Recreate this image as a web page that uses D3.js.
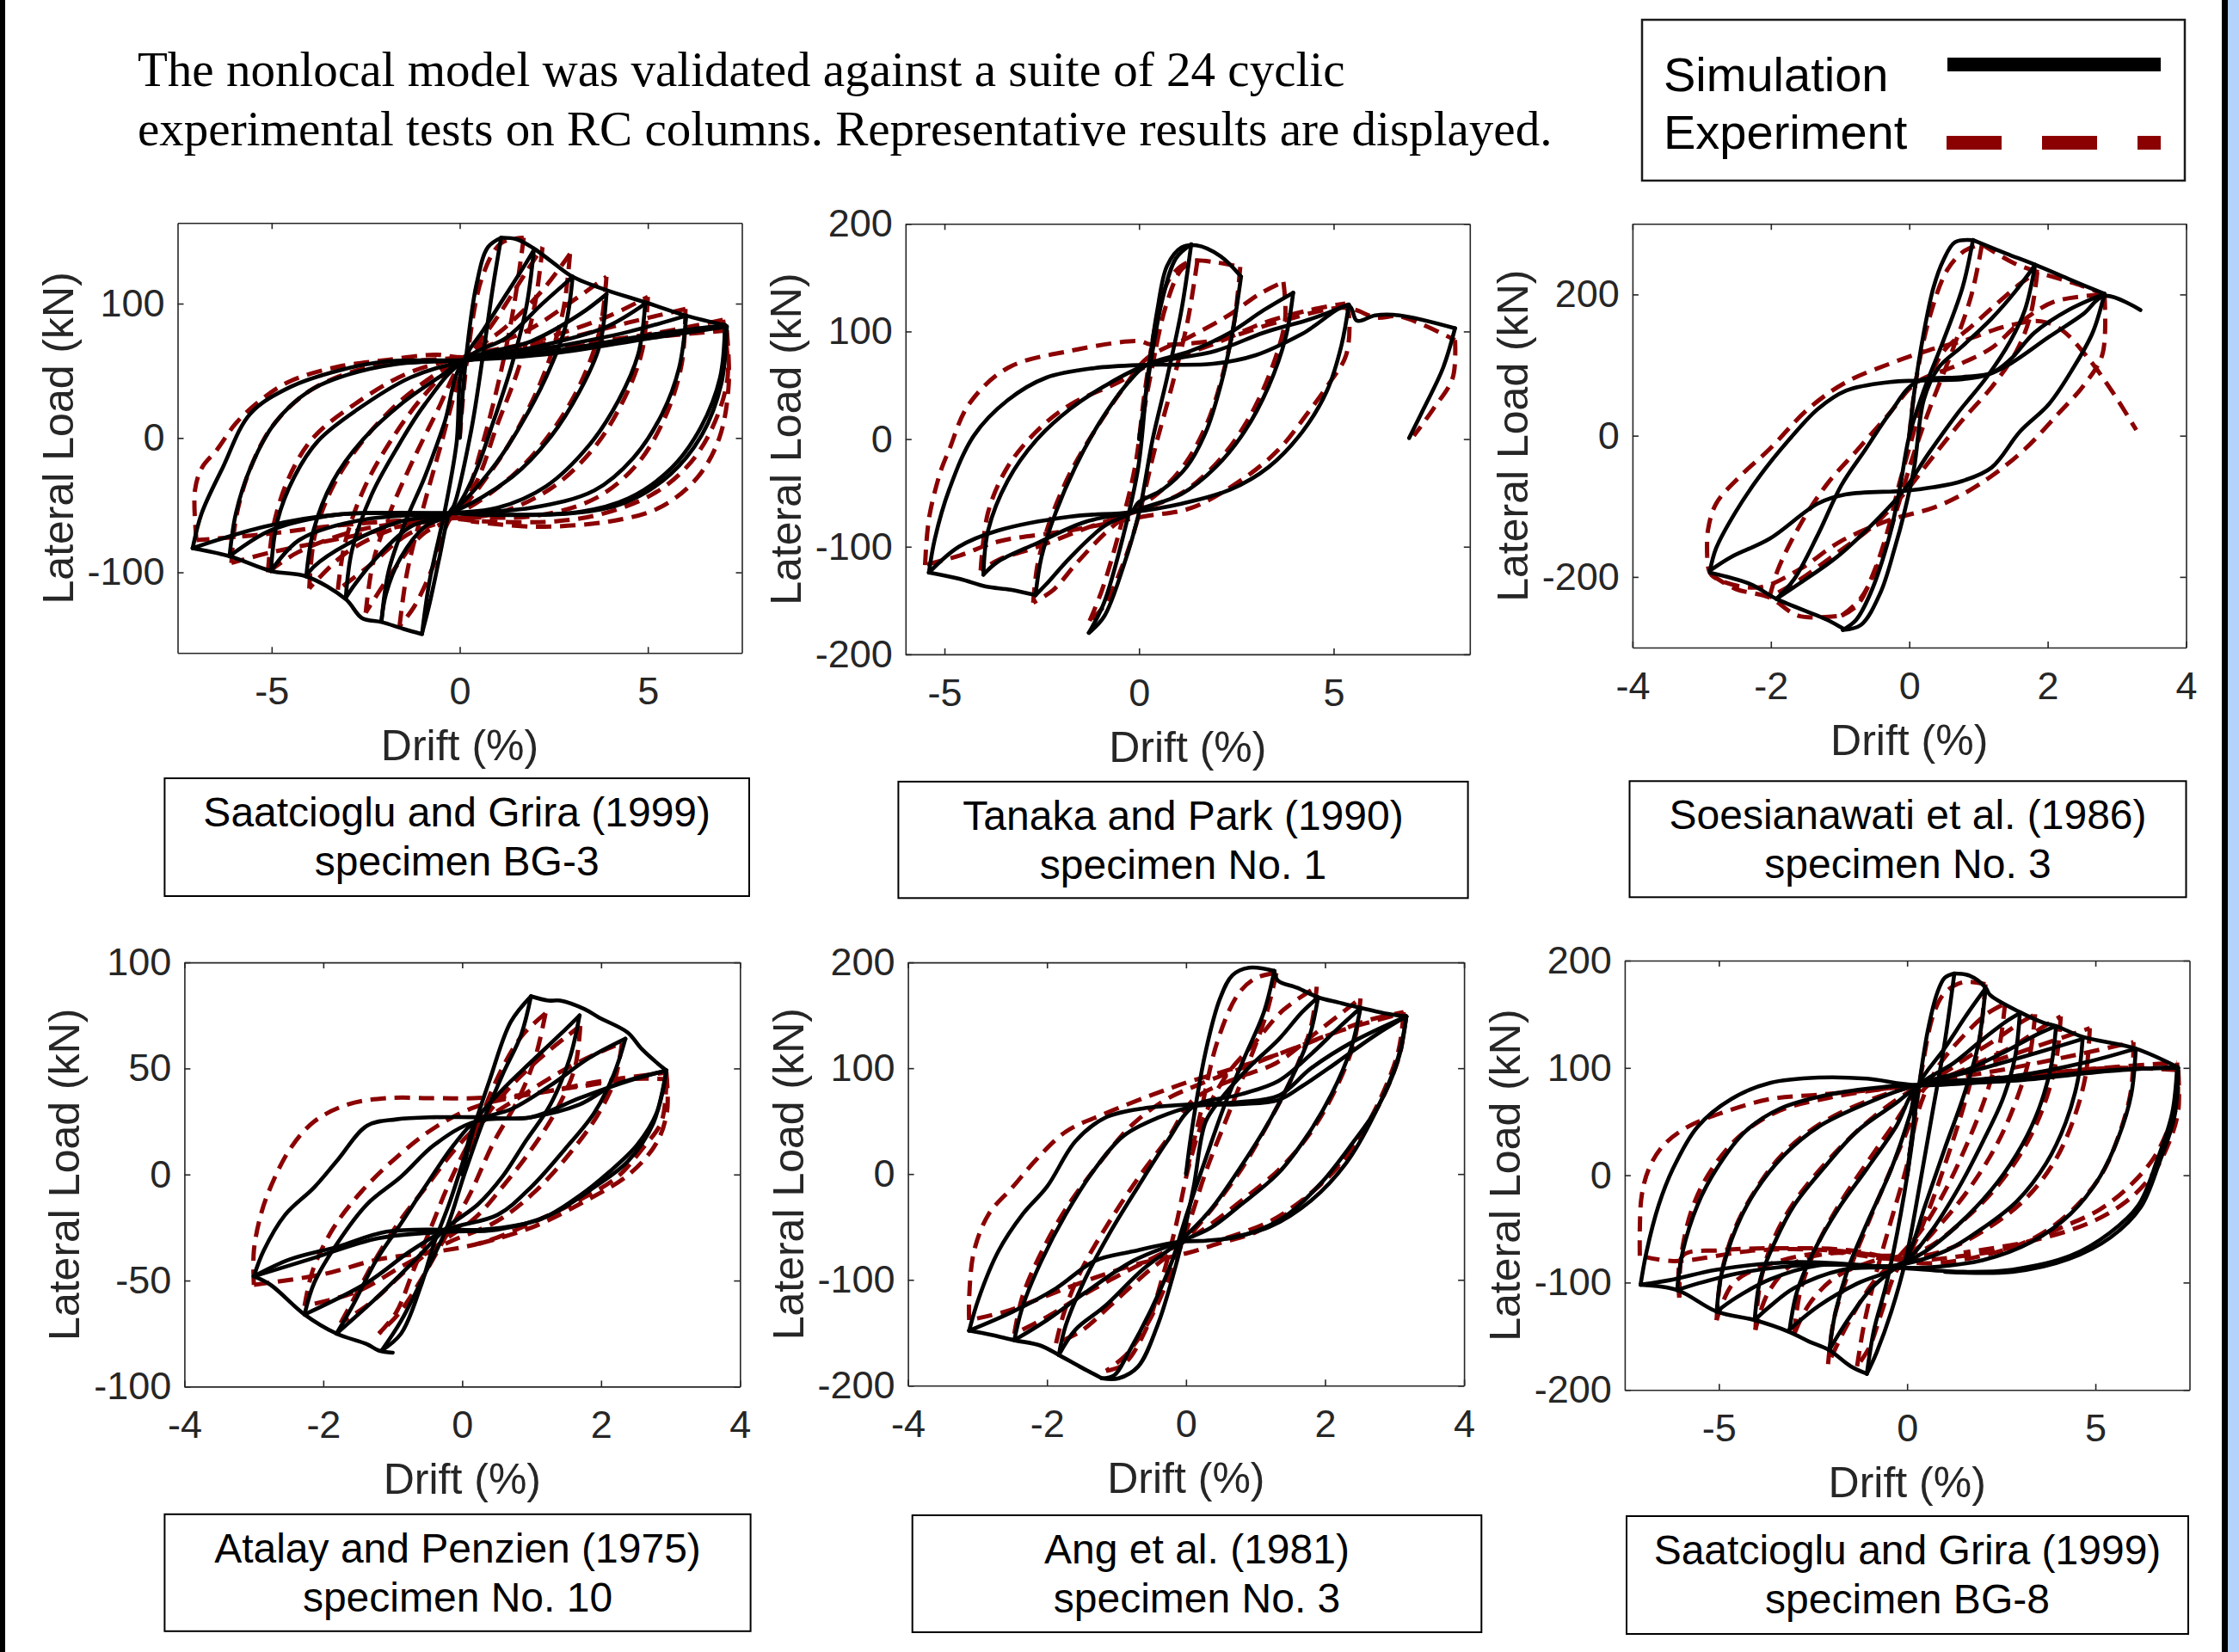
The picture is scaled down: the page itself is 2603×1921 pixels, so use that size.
<!DOCTYPE html>
<html>
<head>
<meta charset="utf-8">
<script src="https://cdn.jsdelivr.net/npm/d3@7"></script>
<style>
  html, body { margin: 0; padding: 0; background: #fff; }
  svg { display: block; }
</style>
</head>
<body>
<svg id="fig" width="2603" height="1921"></svg>
<script>
// ---- text ----
const titleLines = [
  "The nonlocal model was validated against a suite of 24 cyclic",
  "experimental tests on RC columns. Representative results are displayed."
]
const legendLabels = ["Simulation", "Experiment"]

// ---- data: drift (%) vs lateral load (kN), one array per loading branch ----
// Saatcioglu and Grira (1999) BG-3
const bg3Sim = [
  [[0,0],[0.15,55],[0.45,115],[0.75,142],[1.1,149]],
  [[1.1,149],[0.88,112],[0.62,62],[0.3,5],[-0.15,-50],[-0.28,-56],[-0.54,-89],[-0.8,-123],[-1.0,-145]],
  [[-1.0,-145],[-0.8,-106],[-0.41,-56],[-0.09,-5],[0.1,57],[0.62,80],[1.26,108],[1.78,131],[1.97,140]],
  [[1.97,140],[1.78,99],[1.39,55],[0.88,11],[0.36,-29],[-0.22,-56],[-0.93,-66],[-1.57,-89],[-1.96,-116],[-2.08,-136]],
  [[-2.08,-136],[-1.89,-99],[-1.44,-62],[-0.93,-29],[-0.41,11],[0.1,57],[1.26,75],[2.16,99],[2.8,115],[3.0,120]],
  [[3.0,120],[2.8,82],[2.29,45],[1.65,11],[0.88,-22],[-0.28,-56],[-1.31,-66],[-2.21,-89],[-2.79,-109],[-3.03,-119]],
  [[-3.03,-119],[-2.86,-83],[-2.34,-42],[-1.7,-9],[-0.93,25],[0.1,57],[1.9,72],[3.19,92],[3.9,107]],
  [[3.9,107],[3.71,68],[3.19,35],[2.42,1],[1.39,-29],[-0.28,-56],[-1.57,-62],[-2.99,-79],[-3.89,-96],[-4.08,-103]],
  [[-4.08,-103],[-3.89,-69],[-3.37,-32],[-2.6,-2],[-1.57,25],[-0.41,48],[0.1,58],[1.9,67],[3.84,82],[4.93,100]],
  [[4.93,100],[4.74,62],[4.22,28],[3.45,-5],[2.29,-36],[1.0,-52],[-0.28,-56],[-2.6,-61],[-4.27,-76],[-5.02,-99]],
  [[-5.02,-99],[-4.85,-62],[-4.4,-29],[-3.76,-2],[-2.73,21],[-1.31,45],[0.1,57],[2.55,68],[4.48,79],[6.02,91]],
  [[6.02,91],[5.83,52],[5.38,18],[4.61,-15],[3.58,-39],[1.9,-52],[-0.28,-56],[-3.24,-57],[-5.05,-69],[-6.12,-88]],
  [[-6.12,-88],[-5.95,-56],[-5.56,-22],[-4.92,11],[-4.0,35],[-2.99,47],[-1.7,55],[0.1,58],[2.55,65],[5.12,77],[7.05,84]],
  [[7.05,84],[6.92,45],[6.41,8],[5.64,-22],[4.48,-45],[3.19,-55],[0.62,-57],[-0.28,-56],[-3.25,-57],[-5.2,-66],[-7.1,-82]],
  [[-7.1,-82],[-6.86,-56],[-6.3,-22],[-5.57,18],[-4.5,38],[-3.25,50],[-1.96,57],[0.1,58],[2.5,63],[5.0,74],[7.1,83]],
  [[7.1,83],[6.95,40],[6.45,3],[5.6,-27],[4.4,-48],[3.0,-56],[0.5,-57]],
  [[1.1,149],[1.5,148],[1.97,141],[2.5,130],[3.0,120],[3.9,110],[4.93,101],[6.02,91],[7.05,84]],
  [[-1.0,-146],[-1.5,-142],[-2.08,-137],[-2.6,-134],[-3.03,-120],[-4.08,-103],[-5.02,-99],[-6.12,-88],[-7.1,-82]]
]
const bg3Exp = [
  [[0,0],[0.2,60],[0.6,120],[1.1,145],[1.7,149]],
  [[1.7,149],[1.45,100],[1.1,50],[0.6,-5],[0.1,-48],[-0.3,-62],[-0.7,-95],[-1.2,-125],[-1.6,-140]],
  [[-1.6,-140],[-1.4,-100],[-1.0,-55],[-0.5,-5],[0,45],[0.3,62],[1.0,90],[1.8,125],[2.2,142]],
  [[2.2,142],[2.0,100],[1.6,55],[1.0,10],[0.4,-35],[-0.3,-60],[-1.0,-72],[-1.8,-100],[-2.5,-130]],
  [[-2.5,-130],[-2.3,-92],[-1.85,-55],[-1.3,-20],[-0.6,20],[0.1,58],[1.2,82],[2.2,110],[2.93,137]],
  [[2.93,137],[2.75,95],[2.3,52],[1.7,15],[0.9,-22],[-0.2,-58],[-1.4,-72],[-2.4,-95],[-3.24,-113]],
  [[-3.24,-113],[-3.05,-78],[-2.55,-38],[-1.9,-5],[-1.0,30],[0.1,60],[1.8,80],[3.0,102],[3.9,120]],
  [[3.9,120],[3.72,80],[3.2,40],[2.45,5],[1.4,-28],[-0.2,-58],[-1.6,-66],[-3.0,-85],[-4.0,-112]],
  [[-4.0,-112],[-3.85,-72],[-3.35,-35],[-2.6,-3],[-1.6,27],[-0.4,52],[0.1,60],[2.0,72],[3.9,90],[5.0,105]],
  [[5.0,105],[4.85,65],[4.35,28],[3.55,-8],[2.4,-38],[1.0,-56],[-0.3,-60],[-2.6,-68],[-4.3,-85],[-5.1,-100]],
  [[-5.1,-100],[-4.95,-65],[-4.55,-30],[-3.9,0],[-2.8,25],[-1.4,48],[0.1,60],[2.5,72],[4.5,86],[6.0,96]],
  [[6.0,96],[5.9,55],[5.45,15],[4.7,-20],[3.6,-45],[2.0,-58],[-0.3,-60],[-3.2,-75],[-5.0,-85],[-6.07,-93]],
  [[-6.07,-93],[-5.95,-60],[-5.6,-25],[-5.0,8],[-4.1,33],[-3.0,48],[-1.7,56],[0.1,60],[2.6,68],[5.2,78],[7.0,88]],
  [[7.0,88],[7.12,45],[6.67,5],[6.02,-22],[5.12,-42],[3.84,-56],[2.55,-62],[0.62,-62],[-0.3,-60],[-3.2,-65],[-5.3,-72],[-7.0,-76]],
  [[-7.0,-76],[-7.04,-39],[-6.85,-22],[-6.46,-9],[-5.95,11],[-5.3,28],[-4.53,42],[-3.24,53],[-1.96,58],[-0.67,62],[0.1,60],[3,68],[5.5,76],[7.1,80]],
  [[7.1,80],[7.15,40],[6.9,0],[6.3,-30],[5.3,-52],[4.0,-62],[2.0,-66],[0.3,-62]]
]

// Tanaka and Park (1990) No. 1
const tanakaSim = [
  [[0,0],[0.25,60],[0.6,130],[0.95,168],[1.34,181]],
  [[1.34,181],[1.09,120],[0.72,57],[0.35,0],[0.0,-68],[-0.4,-118],[-0.9,-165],[-1.29,-180]],
  [[-1.29,-180],[-0.9,-152],[-0.4,-89],[-0.02,-26],[0.22,57],[0.47,120],[0.72,161],[1.09,178],[1.47,180],[2.09,170],[2.62,151]],
  [[2.62,151],[2.4,99],[2.09,49],[1.72,7],[1.22,-26],[0.6,-47],[-0.02,-59],[-0.2,-68],[-0.9,-81],[-1.77,-110],[-2.39,-135],[-2.66,-145]],
  [[-2.66,-145],[-2.51,-110],[-2.14,-68],[-1.64,-26],[-1.02,15],[-0.27,53],[0.2,69],[1.34,82],[2.34,99],[3.21,120],[3.96,136]],
  [[3.96,136],[3.77,95],[3.33,49],[2.71,7],[1.97,-26],[1.09,-51],[0.1,-64],[-0.21,-68],[-1.39,-77],[-2.64,-97],[-3.63,-114],[-4.0,-126]],
  [[-4.0,-126],[-3.88,-85],[-3.38,-39],[-2.64,-1],[-1.77,28],[-0.9,49],[0.2,69],[1.97,82],[3.21,99],[4.45,112],[5.39,125]],
  [[5.39,125],[5.2,87],[4.83,45],[4.2,7],[3.33,-26],[2.34,-47],[1.09,-60],[-0.21,-68],[-1.77,-72],[-3.63,-85],[-4.63,-100],[-5.4,-124]],
  [[-5.4,-124],[-5.25,-93],[-4.88,-47],[-4.25,3],[-3.38,36],[-2.39,57],[-1.14,66],[0.2,69],[1.9,70],[3.0,78],[4.2,98],[5.39,124],[5.6,110],[6.07,115],[6.69,115],[8.12,103]],
  [[8.12,103],[7.81,66],[7.31,28],[6.94,1]],
  [[-2.66,-145],[-3.3,-140],[-3.94,-137],[-4.6,-130],[-5.4,-124]]
]
const tanakaExp = [
  [[0,0],[0.3,60],[0.7,125],[1.1,158],[1.5,166]],
  [[1.5,166],[1.25,110],[0.85,50],[0.4,-10],[0.0,-70],[-0.4,-115],[-0.9,-155],[-1.27,-169]],
  [[-1.27,-169],[-0.95,-140],[-0.5,-85],[-0.1,-25],[0.15,45],[0.45,110],[0.8,150],[1.3,165],[2.0,164],[2.6,160]],
  [[2.6,160],[2.45,110],[2.15,60],[1.75,15],[1.2,-22],[0.5,-50],[-0.1,-65],[-0.8,-85],[-1.6,-115],[-2.2,-140],[-2.72,-152]],
  [[-2.72,-152],[-2.6,-115],[-2.25,-72],[-1.75,-30],[-1.1,10],[-0.35,50],[0.2,75],[1.3,95],[2.3,115],[3.1,135],[3.71,146]],
  [[3.71,146],[3.75,110],[3.35,60],[2.75,15],[2.0,-22],[1.1,-50],[0.1,-65],[-1.3,-82],[-2.6,-100],[-3.6,-112],[-4.07,-122]],
  [[-4.07,-122],[-3.88,-68],[-3.38,-26],[-2.64,7],[-1.77,32],[-0.52,53],[0.1,66],[1.9,88],[3.2,108],[4.4,120],[5.3,126]],
  [[5.3,126],[5.39,116],[5.32,78],[4.83,49],[4.33,24],[3.58,-10],[2.59,-39],[1.34,-64],[0.1,-72],[-1.8,-85],[-3.6,-95],[-4.6,-108],[-5.5,-117]],
  [[-5.5,-117],[-5.45,-90],[-5.37,-68],[-5.1,-30],[-4.88,-10],[-4.38,32],[-3.38,66],[-1.77,82],[0,91],[0.3,88],[2.0,92],[3.5,108],[5.3,122],[6.1,113],[6.7,114],[8.12,92]],
  [[8.12,92],[8.06,57],[7.56,28],[7.06,3]]
]

// Soesianawati et al. (1986) No. 3
const soesSim = [
  [[0,0],[0.07,60],[0.21,146],[0.35,210],[0.49,248],[0.66,274],[0.92,277]],
  [[0.92,277],[0.77,210],[0.49,134],[0.21,64],[0,0],[-0.14,-76],[-0.28,-140],[-0.56,-223],[-0.77,-261],[-0.96,-275]],
  [[-0.96,-275],[-0.7,-268],[-0.42,-223],[-0.21,-159],[-0.07,-108],[0.07,-45],[0.21,51],[0.42,96],[0.77,127],[1.19,166],[1.53,204],[1.82,242]],
  [[1.82,242],[1.67,178],[1.46,134],[1.12,83],[0.7,32],[0.28,-25],[-0.07,-76],[-0.49,-121],[-1.05,-172],[-1.6,-210],[-1.92,-231]],
  [[-1.92,-231],[-1.67,-204],[-1.32,-140],[-0.98,-70],[-0.63,-19],[-0.28,32],[0.1,76],[0.77,83],[1.19,89],[1.46,108],[1.81,146],[2.3,178],[2.82,201]],
  [[2.82,201],[2.65,146],[2.37,96],[2.02,45],[1.6,6],[1.19,-45],[0.77,-64],[0.35,-73],[-0.07,-78],[-0.91,-83],[-1.32,-96],[-2.02,-146],[-2.58,-172],[-2.88,-191]],
  [[-2.88,-191],[-2.79,-159],[-2.51,-108],[-2.16,-57],[-1.74,-6],[-1.32,38],[-0.91,64],[-0.28,76],[0.1,78],[0.77,80],[1.12,86],[1.46,102],[2.02,140],[2.51,172],[2.82,198],[3.34,178]],
  [[0.92,277],[1.4,258],[1.82,242],[2.3,222],[2.82,201]],
  [[-2.88,-194],[-2.3,-210],[-1.92,-231],[-1.18,-261],[-0.96,-273]]
]
const soesExp = [
  [[0,0],[0.1,80],[0.3,170],[0.55,235],[0.8,262],[1.05,271]],
  [[1.05,271],[0.9,200],[0.62,120],[0.3,40],[0.05,-30],[-0.15,-95],[-0.4,-170],[-0.7,-230],[-0.98,-255]],
  [[-0.98,-255],[-0.75,-240],[-0.5,-190],[-0.3,-130],[-0.15,-70],[0.05,0],[0.25,70],[0.5,120],[0.9,155],[1.3,190],[1.6,215],[1.85,232]],
  [[1.85,232],[1.75,170],[1.55,120],[1.2,70],[0.75,20],[0.3,-35],[-0.1,-85],[-0.55,-130],[-1.1,-170],[-1.6,-205],[-2.02,-229]],
  [[-2.02,-229],[-1.9,-190],[-1.6,-130],[-1.2,-70],[-0.75,-20],[-0.3,30],[0.1,75],[0.7,100],[1.2,125],[1.6,160],[2.1,190],[2.82,200]],
  [[2.82,200],[2.79,115],[2.51,70],[2.16,32],[1.67,-19],[1.19,-57],[0.77,-83],[0.35,-102],[-0.3,-120],[-1.0,-150],[-1.6,-190],[-2.2,-215],[-2.86,-197],[-2.92,-172]],
  [[-2.92,-172],[-2.91,-134],[-2.79,-96],[-2.44,-57],[-2.02,-19],[-1.46,38],[-0.91,76],[-0.28,102],[0.28,121],[0.8,135],[1.4,155],[1.9,162],[2.2,150],[2.6,108],[2.95,60],[3.28,8]],
  [[1.05,271],[1.5,245],[1.85,232],[2.5,212],[2.82,200]],
  [[-2.86,-197],[-2.51,-217],[-2.02,-229],[-1.6,-255],[-0.98,-255]]
]

// Atalay and Penzien (1975) No. 10
const atalaySim = [
  [[0,0],[0.15,20],[0.4,45],[0.7,72],[0.99,84]],
  [[0.99,84],[0.85,66],[0.58,47],[0.3,25],[0.02,-1],[-0.22,-25],[-0.54,-47],[-0.88,-69],[-1.16,-83]],
  [[-1.16,-83],[-0.88,-75],[-0.6,-53],[-0.4,-32],[-0.19,-14],[0.02,7],[0.19,25],[0.58,40],[0.99,53],[1.41,66],[1.69,75]],
  [[1.69,75],[1.55,55],[1.27,33],[0.92,16],[0.58,-1],[0.23,-14],[-0.22,-25],[-0.67,-40],[-1.23,-58],[-1.81,-75]],
  [[-1.81,-75],[-1.58,-62],[-1.23,-40],[-0.88,-23],[-0.54,-6],[-0.12,14],[0.19,25],[0.72,31],[1.27,42],[1.83,55],[2.35,64]],
  [[2.35,64],[2.18,47],[1.9,29],[1.48,12],[0.99,-6],[0.51,-19],[-0.22,-26],[-0.74,-36],[-1.37,-51],[-2.27,-66]],
  [[-2.27,-66],[-2.13,-51],[-1.79,-32],[-1.37,-14],[-0.88,-1],[-0.4,14],[0.19,25],[0.99,27],[1.69,33],[2.18,42],[2.94,49]],
  [[2.94,49],[2.8,29],[2.52,14],[2.11,1],[1.69,-10],[1.13,-21],[0.3,-26],[-0.22,-26],[-1.09,-27],[-1.79,-34],[-2.48,-40],[-3.0,-48]],
  [[-3.0,-48],[-2.86,-36],[-2.55,-19],[-2.13,-6],[-1.79,7],[-1.37,23],[-0.95,26],[-0.4,27],[0.19,27],[0.99,27],[1.69,36],[2.38,44],[2.94,49]],
  [[2.94,49],[2.75,24],[2.38,6],[1.9,-6],[1.27,-19],[0.5,-26],[-0.22,-27],[-1.2,-30],[-2.2,-40],[-3.0,-48]],
  [[0.99,84],[1.24,82],[1.41,82],[1.76,78],[1.97,74],[2.38,67],[2.59,59],[2.94,49]],
  [[-3.0,-48],[-2.76,-52],[-2.27,-66],[-1.81,-75],[-1.37,-80],[-1.2,-83],[-1.0,-84]]
]
const atalayExp = [
  [[0,0],[0.2,20],[0.5,45],[0.85,65],[1.2,76]],
  [[1.2,76],[1.05,55],[0.8,35],[0.45,15],[0.1,-10],[-0.25,-30],[-0.6,-50],[-0.9,-65],[-1.2,-75]],
  [[-1.2,-75],[-0.95,-65],[-0.7,-45],[-0.45,-25],[-0.2,-5],[0.1,15],[0.4,30],[0.8,45],[1.2,57],[1.5,65],[1.7,70]],
  [[1.7,70],[1.62,50],[1.35,30],[1.0,12],[0.6,-5],[0.2,-20],[-0.3,-32],[-0.8,-45],[-1.3,-60],[-1.75,-70]],
  [[-1.75,-70],[-1.55,-58],[-1.25,-40],[-0.9,-22],[-0.5,-5],[-0.1,12],[0.3,25],[0.9,38],[1.5,50],[2.0,58],[2.3,62]],
  [[2.3,62],[2.2,45],[1.95,28],[1.55,10],[1.05,-8],[0.5,-22],[-0.2,-32],[-0.8,-42],[-1.5,-55],[-2.27,-62]],
  [[-2.27,-62],[-2.15,-45],[-1.85,-25],[-1.45,-8],[-0.95,8],[-0.4,22],[0.2,32],[1.0,38],[1.8,42],[2.4,45],[2.94,45]],
  [[2.94,45],[2.87,25],[2.59,12],[2.24,-1],[1.69,-12],[0.99,-23],[0.3,-32],[-0.3,-36],[-1.2,-40],[-2.0,-47],[-3.0,-52]],
  [[-3.0,-52],[-3.0,-36],[-2.9,-19],[-2.76,-6],[-2.48,12],[-2.13,25],[-1.65,33],[-1.09,36],[-0.4,36],[0.16,36],[1.0,38],[2.0,44],[2.94,48]],
  [[2.94,48],[2.95,30],[2.8,15],[2.4,0],[1.8,-12],[1.0,-25],[0.2,-33]]
]

// Ang et al. (1981) No. 3
const angSim = [
  [[0,0],[0.08,40],[0.28,115],[0.49,166],[0.67,188],[0.91,195],[1.27,192]],
  [[1.27,192],[1.12,153],[0.84,110],[0.56,66],[0.28,14],[0.01,-38],[-0.2,-82],[-0.48,-125],[-0.83,-169],[-1.03,-190],[-1.21,-193]],
  [[-1.21,-193],[-0.97,-193],[-0.69,-182],[-0.41,-143],[-0.2,-99],[-0.06,-64],[0.11,-12],[0.28,49],[0.49,70],[0.91,101],[1.33,127],[1.67,153],[1.9,167]],
  [[1.9,167],[1.78,131],[1.53,92],[1.19,49],[0.77,5],[0.35,-34],[-0.1,-64],[-0.62,-90],[-1.17,-125],[-1.59,-147],[-1.83,-171]],
  [[-1.83,-171],[-1.73,-143],[-1.45,-99],[-1.1,-56],[-0.69,-12],[-0.27,31],[0.11,64],[0.77,75],[1.33,88],[1.81,114],[2.16,136],[2.51,157]],
  [[2.51,157],[2.37,118],[2.09,75],[1.74,36],[1.33,1],[0.77,-30],[0.35,-51],[-0.1,-64],[-0.76,-82],[-1.45,-112],[-2.0,-138],[-2.47,-157]],
  [[-2.47,-157],[-2.35,-125],[-2.08,-82],[-1.73,-38],[-1.31,5],[-0.9,36],[-0.41,53],[0.11,64],[0.77,66],[1.33,70],[1.67,83],[2.16,105],[2.72,131],[3.17,149]],
  [[3.17,149],[3.06,110],[2.78,66],[2.37,27],[1.95,-8],[1.47,-38],[1.12,-51],[0.7,-60],[0.28,-63],[-0.1,-64],[-0.76,-73],[-1.31,-82],[-1.87,-108],[-2.49,-130],[-3.12,-148]],
  [[-3.12,-148],[-2.98,-117],[-2.7,-73],[-2.35,-38],[-2.0,-12],[-1.59,31],[-1.17,53],[-0.62,62],[0.11,66],[0.77,68],[1.33,74],[1.8,100],[2.4,125],[3.17,149]],
  [[3.17,149],[3.05,110],[2.7,55],[2.3,10],[1.8,-25],[1.2,-50],[0.5,-62]],
  [[1.27,192],[1.32,183],[1.6,176],[1.9,167],[2.2,162],[2.51,157],[2.85,152],[3.17,149]],
  [[-3.12,-148],[-2.8,-152],[-2.47,-157],[-2.1,-162],[-1.83,-171],[-1.5,-183],[-1.21,-193]]
]
const angExp = [
  [[0,0],[0.2,55],[0.45,125],[0.75,170],[1.0,185],[1.3,190]],
  [[1.3,190],[1.15,150],[0.9,105],[0.6,55],[0.3,5],[0.05,-45],[-0.2,-90],[-0.5,-135],[-0.85,-170],[-1.15,-186]],
  [[-1.15,-186],[-0.9,-180],[-0.6,-150],[-0.35,-100],[-0.15,-50],[0.05,10],[0.3,60],[0.6,95],[1.0,125],[1.4,155],[1.88,177]],
  [[1.88,177],[1.8,140],[1.55,95],[1.2,50],[0.8,5],[0.35,-35],[-0.1,-68],[-0.6,-95],[-1.1,-125],[-1.5,-148],[-1.87,-160]],
  [[-1.87,-160],[-1.75,-130],[-1.5,-90],[-1.15,-50],[-0.7,-5],[-0.25,35],[0.1,70],[0.7,90],[1.3,105],[1.9,135],[2.51,166]],
  [[2.51,166],[2.42,125],[2.15,80],[1.8,40],[1.35,5],[0.8,-25],[0.3,-50],[-0.2,-70],[-0.8,-90],[-1.5,-115],[-2.0,-135],[-2.47,-151]],
  [[-2.47,-151],[-2.35,-115],[-2.05,-70],[-1.7,-30],[-1.25,10],[-0.8,45],[-0.3,70],[0.2,85],[0.8,100],[1.4,115],[2.0,130],[2.6,145],[3.13,153]],
  [[3.13,153],[3.1,120],[2.85,75],[2.45,30],[2.0,-5],[1.5,-35],[1.0,-55],[0.5,-65],[0,-75],[-0.7,-85],[-1.4,-100],[-2.0,-115],[-2.6,-130],[-3.12,-138]],
  [[-3.12,-138],[-3.12,-117],[-3.05,-73],[-2.84,-38],[-2.49,-12],[-2.15,14],[-1.73,40],[-1.17,57],[-0.48,75],[0.08,88],[0.7,100],[1.4,115],[2.2,135],[3.13,152]],
  [[3.13,152],[3.05,115],[2.75,65],[2.35,20],[1.85,-15],[1.2,-45],[0.5,-62]]
]

// Saatcioglu and Grira (1999) BG-8
const bg8Sim = [
  [[0,0],[0.1,30],[0.3,80],[0.55,135],[0.8,170],[1.0,184],[1.25,188]],
  [[1.25,187],[0.99,122],[0.67,58],[0.35,-6],[-0.04,-79],[-0.42,-127],[-0.81,-165],[-1.07,-185]],
  [[-1.07,-185],[-0.88,-144],[-0.55,-101],[-0.17,-36],[0.15,36],[0.28,82],[0.99,118],[1.63,152],[2.08,174]],
  [[2.08,174],[1.89,122],[1.51,75],[0.99,24],[0.48,-28],[-0.04,-79],[-0.3,-86],[-0.94,-105],[-1.58,-135],[-2.07,-163]],
  [[-2.07,-163],[-1.9,-127],[-1.58,-88],[-1.07,-45],[-0.42,6],[0.09,58],[0.28,82],[1.25,105],[2.02,127],[2.66,144],[2.99,151]],
  [[2.99,150],[2.86,109],[2.54,71],[2.02,32],[1.38,-11],[0.6,-54],[-0.17,-84],[-1.33,-101],[-2.36,-122],[-3.13,-144]],
  [[-3.13,-146],[-2.93,-109],[-2.48,-71],[-1.84,-32],[-1.07,6],[-0.3,45],[0.28,82],[1.51,97],[2.54,114],[3.44,131],[3.95,139]],
  [[3.95,137],[3.82,101],[3.5,62],[3.05,28],[2.41,-6],[1.51,-41],[0.48,-71],[-0.3,-84],[-1.71,-88],[-3.0,-105],[-3.64,-122],[-4.05,-135]],
  [[-4.05,-135],[-3.9,-97],[-3.51,-62],[-3.0,-28],[-2.23,6],[-1.33,41],[-0.3,67],[0.28,82],[2.15,101],[3.44,114],[4.66,127]],
  [[4.66,127],[4.53,88],[4.21,49],[3.69,11],[2.92,-24],[2.02,-49],[0.99,-71],[-0.3,-84],[-2.36,-84],[-3.64,-97],[-4.54,-114],[-5.06,-127]],
  [[-5.06,-127],[-4.93,-92],[-4.54,-49],[-4.03,-15],[-3.26,19],[-2.36,45],[-1.07,67],[0.28,84],[2.79,92],[4.72,105],[6.07,118]],
  [[6.07,117],[5.95,75],[5.62,36],[5.11,-2],[4.34,-36],[3.31,-62],[2.02,-79],[0.48,-86],[-0.3,-86],[-2.36,-83],[-4.29,-90],[-5.57,-101],[-6.11,-107]],
  [[-6.11,-107],[-5.96,-71],[-5.57,-28],[-5.06,6],[-4.29,41],[-3.38,62],[-2.1,75],[-0.68,82],[0.28,84],[2.79,88],[5.37,97],[7.17,101]],
  [[7.17,101],[7.04,58],[6.65,15],[6.14,-28],[5.37,-54],[4.34,-75],[2.79,-88],[1.51,-90],[-0.3,-86],[-2.99,-81],[-5.06,-88],[-6.2,-97],[-7.08,-102]],
  [[-7.08,-102],[-6.92,-71],[-6.6,-28],[-6.22,6],[-5.57,45],[-4.67,71],[-3.64,86],[-2.36,91],[-1.07,90],[0.28,84],[3,90],[5.5,98],[7.2,100]],
  [[7.2,100],[7.1,55],[6.7,12],[6.2,-30],[5.4,-58],[4.3,-78],[2.8,-90],[1.0,-90]],
  [[1.25,188],[1.65,186],[2.08,175],[2.2,168],[2.99,152],[3.63,142],[3.95,139],[4.66,129],[6.07,118],[7.17,101]],
  [[-1.07,-185],[-1.5,-178],[-2.07,-163],[-2.6,-155],[-3.13,-146],[-4.05,-135],[-5.06,-127],[-6.11,-107],[-7.08,-102]]
]
const bg8Exp = [
  [[0,0],[0.15,40],[0.4,100],[0.7,150],[1.0,170],[1.5,180],[2.08,178]],
  [[2.08,178],[1.9,120],[1.55,70],[1.1,20],[0.6,-30],[0.1,-70],[-0.3,-90],[-0.7,-130],[-1.0,-160],[-1.33,-178]],
  [[-1.33,-178],[-1.15,-140],[-0.85,-95],[-0.45,-45],[0,10],[0.3,60],[0.8,100],[1.5,130],[2.1,150],[2.6,160]],
  [[2.6,160],[2.45,120],[2.1,75],[1.6,30],[1.0,-15],[0.4,-50],[-0.2,-75],[-0.9,-100],[-1.6,-140],[-2.1,-176]],
  [[-2.1,-176],[-1.95,-135],[-1.6,-95],[-1.1,-50],[-0.5,0],[0.1,50],[0.4,78],[1.4,105],[2.3,125],[3.0,142],[3.4,150]],
  [[3.4,150],[3.25,110],[2.9,70],[2.4,30],[1.7,-10],[0.9,-45],[0.1,-72],[-0.9,-80],[-1.9,-95],[-2.6,-120],[-3.0,-148]],
  [[-3.0,-148],[-2.85,-110],[-2.45,-70],[-1.85,-30],[-1.1,10],[-0.4,45],[0.3,78],[1.6,100],[2.8,120],[3.6,138],[4.08,148]],
  [[4.08,148],[3.95,105],[3.6,62],[3.1,25],[2.4,-10],[1.5,-42],[0.4,-70],[-0.5,-75],[-1.8,-72],[-3.0,-82],[-3.7,-110],[-4.03,-144]],
  [[-4.03,-144],[-3.9,-100],[-3.55,-60],[-3.0,-25],[-2.2,10],[-1.3,42],[-0.3,70],[0.3,82],[2.2,105],[3.6,122],[4.85,137]],
  [[4.85,137],[4.75,95],[4.45,55],[3.95,15],[3.2,-20],[2.2,-48],[1.0,-70],[-0.3,-78],[-2.0,-72],[-3.4,-80],[-4.6,-100],[-5.06,-135]],
  [[-5.06,-135],[-4.95,-95],[-4.6,-52],[-4.05,-15],[-3.3,20],[-2.3,48],[-1.0,70],[0.3,84],[2.8,100],[4.6,113],[6.01,124]],
  [[6.01,124],[5.95,80],[5.65,40],[5.15,0],[4.4,-32],[3.4,-58],[2.0,-75],[0.4,-82],[-1.5,-70],[-3.5,-68],[-5.0,-70],[-5.96,-75],[-6.05,-114]],
  [[-6.05,-114],[-6.0,-75],[-5.7,-30],[-5.2,5],[-4.4,38],[-3.4,60],[-2.1,72],[-0.7,80],[0.3,84],[2.8,92],[5.2,100],[7.17,105]],
  [[7.17,105],[7.17,67],[6.91,41],[6.53,15],[5.88,-11],[5.11,-32],[4.08,-49],[2.79,-67],[1.51,-75],[0.22,-79],[-2.0,-70],[-4.0,-70],[-6.2,-80],[-7.1,-75]],
  [[-7.1,-75],[-7.1,-50],[-7.05,-19],[-6.86,6],[-6.47,28],[-5.83,45],[-4.93,58],[-3.64,71],[-2.36,75],[-1.07,79],[0.28,84],[3.0,92],[5.5,100],[7.2,98]],
  [[7.2,98],[7.2,60],[6.95,30],[6.5,0],[5.8,-25],[4.8,-45],[3.2,-62],[1.5,-72]]
]

// ---- layout ----
const W = 2603, H = 1921
const SIM_COLOR = "#000000", EXP_COLOR = "#8b0000", AXIS_COLOR = "#262626"
const SANS = "'Liberation Sans', Arial, Helvetica, sans-serif"
const SERIF = "'Liberation Serif', 'Times New Roman', serif"

const panels = [
  { id: "bg3", sim: bg3Sim, exp: bg3Exp,
    box: [206.5, 259.3, 862.5, 759.3], xDomain: [-7.5, 7.5], yDomain: [-160, 160],
    xTicks: [-5, 0, 5], yTicks: [-100, 0, 100],
    cap: [191.4, 905, 871, 1042], capLines: ["Saatcioglu and Grira (1999)", "specimen BG-3"] },
  { id: "tanaka", sim: tanakaSim, exp: tanakaExp,
    box: [1052.8, 260.3, 1708.8, 760.9], xDomain: [-6, 8.5], yDomain: [-200, 200],
    xTicks: [-5, 0, 5], yTicks: [-200, -100, 0, 100, 200],
    cap: [1044.4, 908.9, 1706.6, 1044.3], capLines: ["Tanaka and Park (1990)", "specimen No. 1"] },
  { id: "soes", sim: soesSim, exp: soesExp,
    box: [1897.9, 260.3, 2541.5, 753], xDomain: [-4, 4], yDomain: [-300, 300],
    xTicks: [-4, -2, 0, 2, 4], yTicks: [-200, 0, 200],
    cap: [1894.5, 908.3, 2541.5, 1043.3], capLines: ["Soesianawati et al. (1986)", "specimen No. 3"] },
  { id: "atalay", sim: atalaySim, exp: atalayExp,
    box: [214.4, 1119.1, 860.3, 1612.4], xDomain: [-4, 4], yDomain: [-100, 100],
    xTicks: [-4, -2, 0, 2, 4], yTicks: [-100, -50, 0, 50, 100],
    cap: [191.4, 1760.8, 872.6, 1896.8], capLines: ["Atalay and Penzien (1975)", "specimen No. 10"] },
  { id: "ang", sim: angSim, exp: angExp,
    box: [1055.6, 1119.1, 1702.1, 1611.3], xDomain: [-4, 4], yDomain: [-200, 200],
    xTicks: [-4, -2, 0, 2, 4], yTicks: [-200, -100, 0, 100, 200],
    cap: [1060.7, 1762, 1722.3, 1898], capLines: ["Ang et al. (1981)", "specimen No. 3"] },
  { id: "bg8", sim: bg8Sim, exp: bg8Exp,
    box: [1888.9, 1117, 2545.5, 1616.2], xDomain: [-7.5, 7.5], yDomain: [-200, 200],
    xTicks: [-5, 0, 5], yTicks: [-200, -100, 0, 100, 200],
    cap: [1891, 1763, 2544, 1900], capLines: ["Saatcioglu and Grira (1999)", "specimen BG-8"] }
]

const svg = d3.select("#fig")
svg.append("rect").attr("width", W).attr("height", H).attr("fill", "#fff")

// window edges of the screenshot
svg.append("rect").attr("x", 0).attr("y", 0).attr("width", 6).attr("height", H).attr("fill", "#000")
svg.append("rect").attr("x", 2583).attr("y", 0).attr("width", 7).attr("height", H).attr("fill", "#000")
svg.append("rect").attr("x", 2590).attr("y", 0).attr("width", 13).attr("height", H).attr("fill", "#b4d3fc")

// title, fitted to the measured line width
const title = svg.append("g").attr("font-family", SERIF).attr("fill", "#000")
const t1 = title.append("text").attr("x", 160).attr("y", 100).attr("font-size", 100).text(titleLines[0])
const t2 = title.append("text").attr("x", 160).attr("y", 169).attr("font-size", 100).text(titleLines[1])
const titleSize = 100 * 1645 / t2.node().getComputedTextLength()
t1.attr("font-size", titleSize)
t2.attr("font-size", titleSize)

// legend
const leg = svg.append("g")
leg.append("rect").attr("x", 1909).attr("y", 23).attr("width", 631).attr("height", 187)
  .attr("fill", "#fff").attr("stroke", "#1a1a1a").attr("stroke-width", 2.5)
leg.append("text").attr("x", 1934).attr("y", 106).attr("font-family", SANS).attr("font-size", 56).text(legendLabels[0])
leg.append("text").attr("x", 1934).attr("y", 173).attr("font-family", SANS).attr("font-size", 56).text(legendLabels[1])
leg.append("line").attr("x1", 2264).attr("x2", 2512).attr("y1", 75).attr("y2", 75)
  .attr("stroke", SIM_COLOR).attr("stroke-width", 16)
leg.append("line").attr("x1", 2263).attr("x2", 2512).attr("y1", 166).attr("y2", 166)
  .attr("stroke", EXP_COLOR).attr("stroke-width", 16).attr("stroke-dasharray", "64,47")

function drawPanel(p) {
  const [left, top, right, bottom] = p.box
  const x = d3.scaleLinear().domain(p.xDomain).range([left, right])
  const y = d3.scaleLinear().domain(p.yDomain).range([bottom, top])
  const g = svg.append("g")

  g.append("clipPath").attr("id", "clip-" + p.id)
    .append("rect").attr("x", left).attr("y", top).attr("width", right - left).attr("height", bottom - top)

  const line = d3.line().x(d => x(d[0])).y(d => y(d[1])).curve(d3.curveCatmullRom.alpha(0.5))
  const plot = g.append("g").attr("clip-path", `url(#clip-${p.id})`).attr("fill", "none")

  plot.selectAll("path.exp").data(p.exp).join("path")
    .attr("class", "exp").attr("d", line)
    .attr("stroke", EXP_COLOR).attr("stroke-width", 5).attr("stroke-dasharray", "18,10")

  plot.selectAll("path.sim").data(p.sim).join("path")
    .attr("class", "sim").attr("d", line)
    .attr("stroke", SIM_COLOR).attr("stroke-width", 4.6)
    .attr("stroke-linejoin", "round").attr("stroke-linecap", "round")

  // axes: inward ticks on all four sides
  const fmt = d => String(d)
  const axB = g.append("g").attr("transform", `translate(0,${bottom})`)
    .call(d3.axisBottom(x).tickValues(p.xTicks).tickSizeInner(-7).tickSizeOuter(0).tickPadding(28).tickFormat(fmt))
  const axL = g.append("g").attr("transform", `translate(${left},0)`)
    .call(d3.axisLeft(y).tickValues(p.yTicks).tickSizeInner(-7).tickSizeOuter(0).tickPadding(15).tickFormat(fmt))
  const axT = g.append("g").attr("transform", `translate(0,${top})`)
    .call(d3.axisTop(x).tickValues(p.xTicks).tickSizeInner(-7).tickSizeOuter(0).tickFormat(""))
  const axR = g.append("g").attr("transform", `translate(${right},0)`)
    .call(d3.axisRight(y).tickValues(p.yTicks).tickSizeInner(-7).tickSizeOuter(0).tickFormat(""))

  for (const ax of [axB, axL, axT, axR]) {
    ax.select(".domain").attr("stroke", AXIS_COLOR).attr("stroke-width", 1.6)
    ax.selectAll(".tick line").attr("stroke", AXIS_COLOR).attr("stroke-width", 1.6)
    ax.selectAll(".tick text").attr("fill", AXIS_COLOR).attr("font-size", 45).attr("font-family", SANS)
  }
  axT.selectAll(".tick text").remove()
  axR.selectAll(".tick text").remove()

  g.append("text")
    .attr("x", (left + right) / 2).attr("y", bottom + 125)
    .attr("text-anchor", "middle").attr("font-family", SANS).attr("font-size", 50).attr("fill", AXIS_COLOR)
    .text("Drift (%)")

  g.append("text")
    .attr("transform", `translate(${left - 122},${(top + bottom) / 2}) rotate(-90)`)
    .attr("text-anchor", "middle").attr("font-family", SANS).attr("font-size", 50).attr("fill", AXIS_COLOR)
    .text("Lateral Load (kN)")

  // caption box
  const [cx0, cy0, cx1, cy1] = p.cap
  g.append("rect").attr("x", cx0).attr("y", cy0).attr("width", cx1 - cx0).attr("height", cy1 - cy0)
    .attr("fill", "none").attr("stroke", "#000").attr("stroke-width", 2)
  g.selectAll("text.cap").data(p.capLines).join("text")
    .attr("class", "cap")
    .attr("x", (cx0 + cx1) / 2).attr("y", (d, i) => cy0 + 56 + i * 57)
    .attr("text-anchor", "middle").attr("font-family", SANS).attr("font-size", 48).attr("fill", "#000")
    .text(d => d)
}

panels.forEach(drawPanel)
</script>
</body>
</html>
